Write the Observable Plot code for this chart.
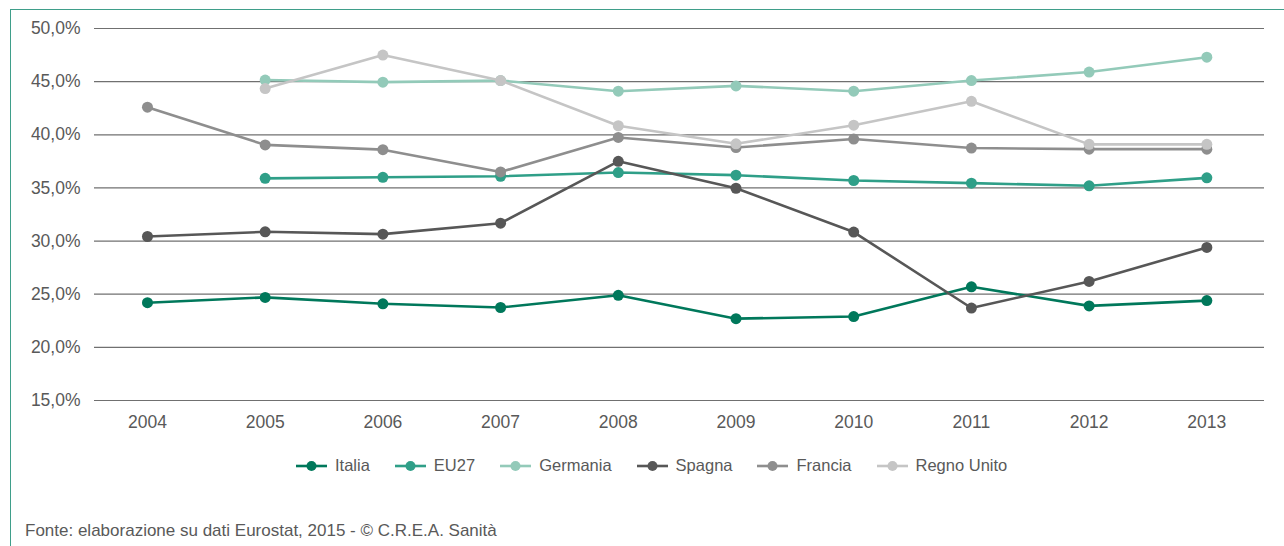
<!DOCTYPE html>
<html>
<head>
<meta charset="utf-8">
<script src="https://cdn.jsdelivr.net/npm/d3@7"></script>
<script src="https://cdn.jsdelivr.net/npm/@observablehq/plot@0.6"></script>
<style>
  html, body { margin: 0; padding: 0; background: #fff; }
  body { width: 1284px; height: 546px; position: relative; overflow: hidden;
         font-family: "Liberation Sans", Arial, sans-serif; color: #595959; }
  #frame { position: absolute; left: 10px; top: 9px; width: 1300px; height: 560px;
           border-left: 1.5px solid #3f9e8a; border-top: 1.5px solid #3f9e8a; }
  #chart { position: absolute; left: 0; top: 0; }
  #legend { position: absolute; left: 296px; top: 456px; display: flex; align-items: center; font-size: 16.5px; }
  .item { display: flex; align-items: center; margin-right: 25px; }
  .item svg { margin-right: 8px; }
  #caption { position: absolute; left: 25px; top: 521px; font-size: 17px; }
</style>
</head>
<body>
<div id="frame"></div>
<div id="chart"></div>
<div id="legend"></div>
<div id="caption">Fonte: elaborazione su dati Eurostat, 2015 - © C.R.E.A. Sanità</div>
<script>
const years = [2004, 2005, 2006, 2007, 2008, 2009, 2010, 2011, 2012, 2013];
const seriesNames = ["Italia", "EU27", "Germania", "Spagna", "Francia", "Regno Unito"];
const seriesColors = ["#00785b", "#2f9f88", "#93cab9", "#575757", "#8e8e8e", "#c5c5c5"];
const italia     = [24.2, 24.7, 24.1, 23.75, 24.9, 22.7, 22.9, 25.7, 23.9, 24.4];
const eu27       = [null, 35.9, 36.0, 36.1, 36.45, 36.2, 35.7, 35.45, 35.2, 35.95];
const germania   = [null, 45.15, 44.95, 45.1, 44.1, 44.6, 44.1, 45.1, 45.9, 47.3];
const spagna     = [30.43, 30.87, 30.65, 31.68, 37.5, 34.97, 30.85, 23.7, 26.2, 29.4];
const francia    = [42.6, 39.05, 38.6, 36.5, 39.75, 38.8, 39.6, 38.75, 38.65, 38.65];
const regnoUnito = [null, 44.35, 47.5, 45.1, 40.85, 39.15, 40.9, 43.15, 39.1, 39.1];
const yTicks = [15, 20, 25, 30, 35, 40, 45, 50];

const seriesValues = [italia, eu27, germania, spagna, francia, regnoUnito];
const data = [];
seriesNames.forEach((name, i) => {
  years.forEach((yr, j) => {
    const v = seriesValues[i][j];
    if (v != null) data.push({series: name, year: yr, value: v});
  });
});

const fmt = d => d.toFixed(1).replace(".", ",") + "%";

const marks = [
  Plot.ruleY(yTicks, {stroke: "#707070", strokeWidth: 1.2})
];
seriesNames.forEach((name, i) => {
  const d = data.filter(r => r.series === name);
  marks.push(Plot.lineY(d, {x: "year", y: "value", stroke: seriesColors[i], strokeWidth: 2.6}));
  marks.push(Plot.dot(d, {x: "year", y: "value", fill: seriesColors[i], r: 5.5}));
});
marks.push(Plot.axisX({ticks: years, tickFormat: d => String(d), tickSize: 0, tickPadding: 15, label: null}));
marks.push(Plot.axisY({ticks: yTicks, tickFormat: fmt, tickSize: 0, tickPadding: 14, label: null}));

const chart = Plot.plot({
  width: 1284,
  height: 440,
  marginTop: 28,
  marginBottom: 40,
  marginLeft: 94,
  marginRight: 20,
  x: {type: "linear", domain: [2003.55, 2013.49]},
  y: {domain: [15, 50]},
  style: {fontFamily: '"Liberation Sans", Arial, sans-serif', fontSize: "17.5px", color: "#595959", background: "transparent"},
  marks
});
document.getElementById("chart").appendChild(chart);

const legend = document.getElementById("legend");
seriesNames.forEach((name, i) => {
  const item = document.createElement("div");
  item.className = "item";
  item.innerHTML = `<svg width="31" height="12"><line x1="0" x2="31" y1="6" y2="6" stroke="${seriesColors[i]}" stroke-width="2.6"/><circle cx="15.5" cy="6" r="5" fill="${seriesColors[i]}"/></svg><span>${name}</span>`;
  legend.appendChild(item);
});
</script>
</body>
</html>
